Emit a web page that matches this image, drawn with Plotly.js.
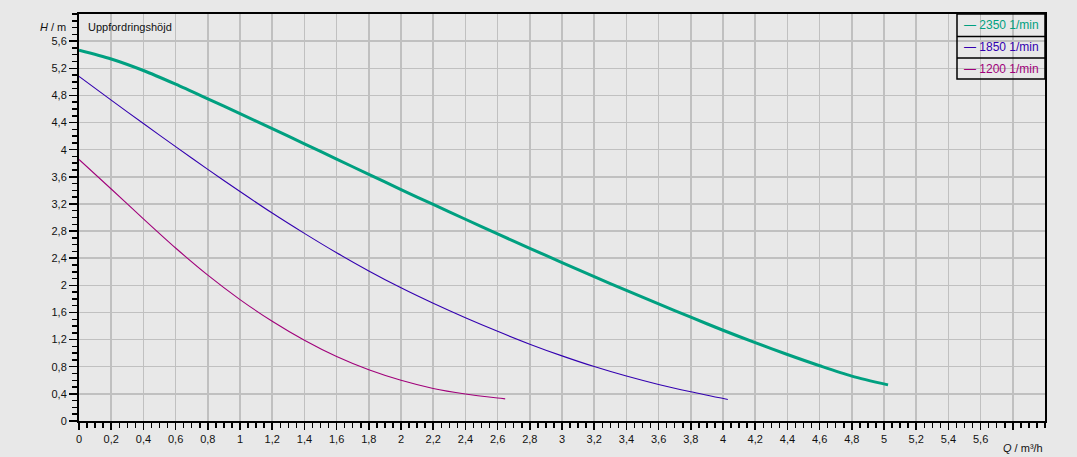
<!DOCTYPE html>
<html>
<head>
<meta charset="utf-8">
<script src="https://cdn.plot.ly/plotly-3.0.1.min.js"></script>
<style>html,body{margin:0;padding:0;background:#e8e8e8;}#chart{width:1077px;height:457px;}</style>
</head>
<body>
<div id="chart"></div>
<script>
// Series names and colours
const seriesNames = ['2350 1/min', '1850 1/min', '1200 1/min'];
const seriesColors = ['#00a080', '#3300b0', '#a0007a'];

// Flow Q (m³/h) and head H (m) for each speed
const q2350 = [0, 0.2, 0.4, 0.6, 0.8, 1.0, 1.2, 1.4, 1.6, 1.8, 2.0, 2.2, 2.4, 2.6, 2.8, 3.0, 3.2, 3.4, 3.6, 3.8, 4.0, 4.2, 4.4, 4.6, 4.8, 5.025];
const h2350 = [5.467, 5.337, 5.167, 4.965, 4.75, 4.532, 4.31, 4.087, 3.861, 3.636, 3.412, 3.192, 2.974, 2.758, 2.545, 2.336, 2.128, 1.925, 1.726, 1.53, 1.338, 1.155, 0.98, 0.815, 0.662, 0.533];

const q1850 = [0, 0.2, 0.4, 0.6, 0.8, 1.0, 1.2, 1.4, 1.6, 1.8, 2.0, 2.2, 2.4, 2.6, 2.8, 3.0, 3.2, 3.4, 3.6, 3.8, 4.03];
const h1850 = [5.081, 4.73, 4.385, 4.045, 3.71, 3.383, 3.066, 2.766, 2.48, 2.212, 1.963, 1.735, 1.522, 1.322, 1.133, 0.96, 0.802, 0.662, 0.538, 0.43, 0.316];

const q1200 = [0, 0.2, 0.4, 0.6, 0.8, 1.0, 1.2, 1.4, 1.6, 1.8, 2.0, 2.2, 2.4, 2.6, 2.647];
const h1200 = [3.855, 3.42, 2.98, 2.55, 2.15, 1.79, 1.47, 1.19, 0.95, 0.755, 0.6, 0.48, 0.398, 0.338, 0.326];

const seriesQ = [q2350, q1850, q1200];
const seriesH = [h2350, h1850, h1200];
const seriesWidths = [3, 1.1, 1.1];

// Axis ticks
const xTickVals = [0, 0.2, 0.4, 0.6, 0.8, 1, 1.2, 1.4, 1.6, 1.8, 2, 2.2, 2.4, 2.6, 2.8, 3, 3.2, 3.4, 3.6, 3.8, 4, 4.2, 4.4, 4.6, 4.8, 5, 5.2, 5.4, 5.6, 5.8];
const xTickText = ['0', '0,2', '0,4', '0,6', '0,8', '1', '1,2', '1,4', '1,6', '1,8', '2', '2,2', '2,4', '2,6', '2,8', '3', '3,2', '3,4', '3,6', '3,8', '4', '4,2', '4,4', '4,6', '4,8', '5', '5,2', '5,4', '5,6', ''];
const yTickVals = [0, 0.4, 0.8, 1.2, 1.6, 2, 2.4, 2.8, 3.2, 3.6, 4, 4.4, 4.8, 5.2, 5.6];
const yTickText = ['0', '0,4', '0,8', '1,2', '1,6', '2', '2,4', '2,8', '3,2', '3,6', '4', '4,4', '4,8', '5,2', '5,6'];

const traces = seriesNames.map((n, i) => ({
  type: 'scatter', mode: 'lines', name: n,
  x: seriesQ[i], y: seriesH[i],
  line: {color: seriesColors[i], width: seriesWidths[i], shape: 'spline', smoothing: 0.8},
  hoverinfo: 'x+y+name'
}));

const font = {family: 'Liberation Sans, Arial, sans-serif', size: 11, color: '#111'};

// Legend box geometry (paper coordinates)
const lgX0 = 0.9089, lgX1 = 1.0;
const lgRows = [1.0, 0.9449, 0.8918, 0.8403];
const shapes = [{type: 'rect', xref: 'paper', yref: 'paper', x0: lgX0, x1: lgX1, y0: lgRows[3], y1: lgRows[0], line: {color: '#000', width: 1.5}}];
for (let i = 1; i < 3; i++) {
  shapes.push({type: 'line', xref: 'paper', yref: 'paper', x0: lgX0, x1: lgX1, y0: lgRows[i], y1: lgRows[i], line: {color: '#000', width: 1.5}});
}
const annotations = seriesNames.map((n, i) => ({
  xref: 'paper', yref: 'paper', x: lgX0 + 0.005, y: (lgRows[i] + lgRows[i + 1]) / 2,
  xanchor: 'left', yanchor: 'middle', showarrow: false,
  text: '— ' + n, font: {family: font.family, size: 12, color: seriesColors[i]}
}));
annotations.push({xref: 'paper', yref: 'paper', x: 0.0075, y: 0.968, xanchor: 'left', yanchor: 'middle', showarrow: false,
  text: 'Uppfordringshöjd', font: {family: font.family, size: 11, color: '#111'}});
annotations.push({xref: 'paper', yref: 'paper', x: -0.0114, y: 0.968, xanchor: 'right', yanchor: 'middle', showarrow: false,
  text: '<i>H</i> / m', font: {family: font.family, size: 11, color: '#111'}});
annotations.push({xref: 'paper', yref: 'paper', x: 1.0, y: -0.047, xanchor: 'right', yanchor: 'top', showarrow: false,
  text: '<i>Q</i> / m³/h', font: {family: font.family, size: 11, color: '#111'}});

const layout = {
  width: 1077, height: 457,
  margin: {l: 79, r: 32, t: 14, b: 36},
  paper_bgcolor: '#e8e8e8', plot_bgcolor: '#e8e8e8',
  showlegend: false,
  font: font,
  xaxis: {
    range: [0, 6], tickmode: 'array', tickvals: xTickVals, ticktext: xTickText,
    showgrid: true, gridcolor: '#c0c0c0', gridwidth: 1.5, zeroline: false,
    showline: true, linecolor: '#000', linewidth: 2, mirror: true,
    ticks: 'outside', ticklen: 7, tickwidth: 1.5, tickcolor: '#000',
    minor: {dtick: 0.05, tick0: 0, ticks: 'outside', ticklen: 5, tickwidth: 1.5, tickcolor: '#000', showgrid: false},
    tickfont: font, fixedrange: true
  },
  yaxis: {
    range: [0, 6], tickmode: 'array', tickvals: yTickVals, ticktext: yTickText,
    showgrid: true, gridcolor: '#c0c0c0', gridwidth: 1.5, zeroline: false,
    showline: true, linecolor: '#000', linewidth: 2, mirror: true,
    ticks: 'outside', ticklen: 8, tickwidth: 1.5, tickcolor: '#000',
    minor: {dtick: 0.1, tick0: 0, ticks: 'outside', ticklen: 5, tickwidth: 1.5, tickcolor: '#000', showgrid: false},
    tickfont: font, fixedrange: true
  },
  shapes: shapes,
  annotations: annotations
};

Plotly.newPlot('chart', traces, layout, {displayModeBar: false, staticPlot: true});
</script>
</body>
</html>
